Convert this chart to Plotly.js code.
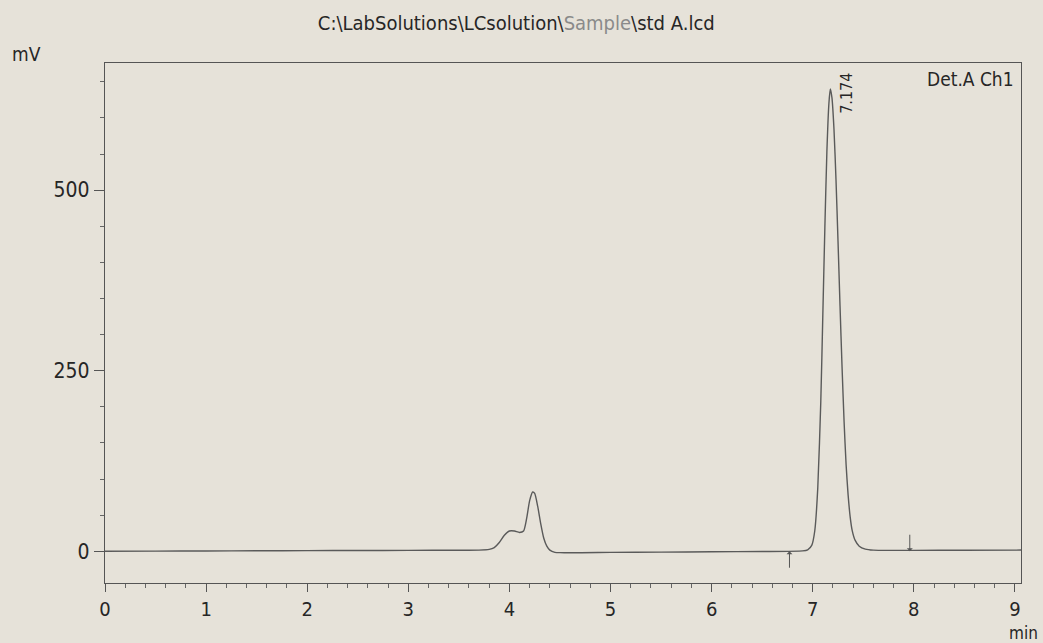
<!DOCTYPE html>
<html>
<head>
<meta charset="utf-8">
<script src="https://cdn.plot.ly/plotly-3.0.1.min.js"></script>
<style>
  html, body { margin: 0; padding: 0; background: #e6e2d9; }
  #chart { width: 1043px; height: 643px; }
</style>
</head>
<body>
<div id="chart"></div>
<script>
// Retention time (min) and detector signal (mV)
const timeMin = [
  0.0, 0.5, 1.0, 1.5, 2.0, 2.5, 3.0, 3.5, 3.7, 3.8,
  3.85, 3.9, 3.95, 4.0, 4.05, 4.1, 4.14, 4.17, 4.2, 4.23,
  4.25, 4.28, 4.31, 4.34, 4.37, 4.4, 4.45, 4.5, 5.0, 5.5,
  6.0, 6.5, 6.9, 6.95, 6.99, 7.02, 7.05, 7.08, 7.1, 7.12,
  7.14, 7.16, 7.174, 7.19, 7.21, 7.23, 7.25, 7.27, 7.29, 7.31,
  7.33, 7.35, 7.37, 7.39, 7.42, 7.46, 7.52, 7.6, 8.0, 8.5, 9.06
];
const signalMv = [
  0.0, 0.2, 0.4, 0.6, 0.8, 1.0, 1.2, 1.4, 1.5, 2.5,
  5, 12, 22, 28, 28, 26, 28, 45, 70, 82,
  80, 62, 38, 18, 7, 1.5, -1.5, -2, -1.6, -1.2,
  -0.8, -0.4, 0.5, 2, 8, 28, 88, 208, 328, 448,
  553, 620, 640, 628, 585, 515, 430, 340, 255, 180,
  120, 78, 48, 29, 15, 7, 3, 1.5, 1.2, 1.4, 1.6
];

const peakTimes = [7.174];
const peakHeights = [640];
const peakLabels = ["7.174"];
const integrationMarks = [6.77, 7.96];
const integrationDir = ["up", "down"];

const xTickVals = [0, 1, 2, 3, 4, 5, 6, 7, 8, 9];
const yTickVals = [0, 250, 500];

const narrow = '"DejaVu Sans Condensed", "Liberation Sans Narrow", "Arial Narrow", sans-serif';
const ink = '#262626';
const paper = '#e6e2d9';

const annotations = [];
peakTimes.forEach((t, i) => {
  annotations.push({
    x: t, y: peakHeights[i], xref: 'x', yref: 'y',
    text: peakLabels[i], showarrow: false, textangle: -90,
    xanchor: 'left', yanchor: 'middle', xshift: 4, yshift: -4,
    font: { family: narrow, size: 16, color: ink }
  });
});
integrationMarks.forEach((t, i) => {
  const up = integrationDir[i] === 'up';
  annotations.push({
    x: t, y: 0, xref: 'x', yref: 'y', text: '',
    showarrow: true, arrowhead: 1, arrowsize: 1, arrowwidth: 1,
    arrowcolor: '#555', ax: 0, ay: up ? 18 : -18
  });
});
annotations.push({
  xref: 'paper', yref: 'paper', x: 0.995, y: 0.995, xanchor: 'right', yanchor: 'top',
  text: 'Det.A Ch1', showarrow: false, font: { family: narrow, size: 19, color: ink }
});
annotations.push({
  xref: 'paper', yref: 'paper', x: -0.086, y: 1.0, xanchor: 'center', yanchor: 'bottom',
  yshift: -4,
  text: 'mV', showarrow: false, font: { family: narrow, size: 19, color: ink }
});
annotations.push({
  xref: 'paper', yref: 'paper', x: 1.0, y: 0, xanchor: 'center', yanchor: 'top',
  yshift: -38, xshift: 2,
  text: 'min', showarrow: false, font: { family: narrow, size: 17, color: ink }
});

const trace = {
  x: timeMin, y: signalMv, type: 'scatter', mode: 'lines',
  line: { color: '#5a5a5a', width: 1.4, shape: 'spline', smoothing: 0.6 },
  hoverinfo: 'skip'
};

const layout = {
  width: 1043, height: 643,
  paper_bgcolor: paper, plot_bgcolor: paper,
  margin: { l: 105, r: 22, t: 63, b: 60 },
  showlegend: false,
  title: {
    text: 'C:\\LabSolutions\\LCsolution\\<span style="color:#8a8a8a">Sample</span>\\std A.lcd',
    x: 0.495, xanchor: 'center', y: 0.965, yanchor: 'middle',
    font: { family: narrow, size: 20, color: ink }
  },
  xaxis: {
    range: [0, 9.06], showgrid: false, zeroline: false,
    showline: true, linecolor: '#555', linewidth: 1.2, mirror: true,
    tickmode: 'array', tickvals: xTickVals,
    ticks: 'outside', ticklen: 8, tickwidth: 1, tickcolor: '#555',
    minor: { dtick: 0.2, ticks: 'outside', ticklen: 4, tickcolor: '#666', showgrid: false },
    tickfont: { family: narrow, size: 20, color: ink }
  },
  yaxis: {
    range: [-44, 676], showgrid: false, zeroline: false,
    showline: true, linecolor: '#555', linewidth: 1.2, mirror: true,
    tickmode: 'array', tickvals: yTickVals,
    ticks: 'outside', ticklen: 10, tickwidth: 1, tickcolor: '#555',
    minor: { dtick: 50, ticks: 'outside', ticklen: 4, tickcolor: '#666', showgrid: false },
    tickfont: { family: narrow, size: 21, color: ink }
  },
  annotations: annotations
};

Plotly.newPlot('chart', [trace], layout, { displayModeBar: false, staticPlot: true });
</script>
</body>
</html>
